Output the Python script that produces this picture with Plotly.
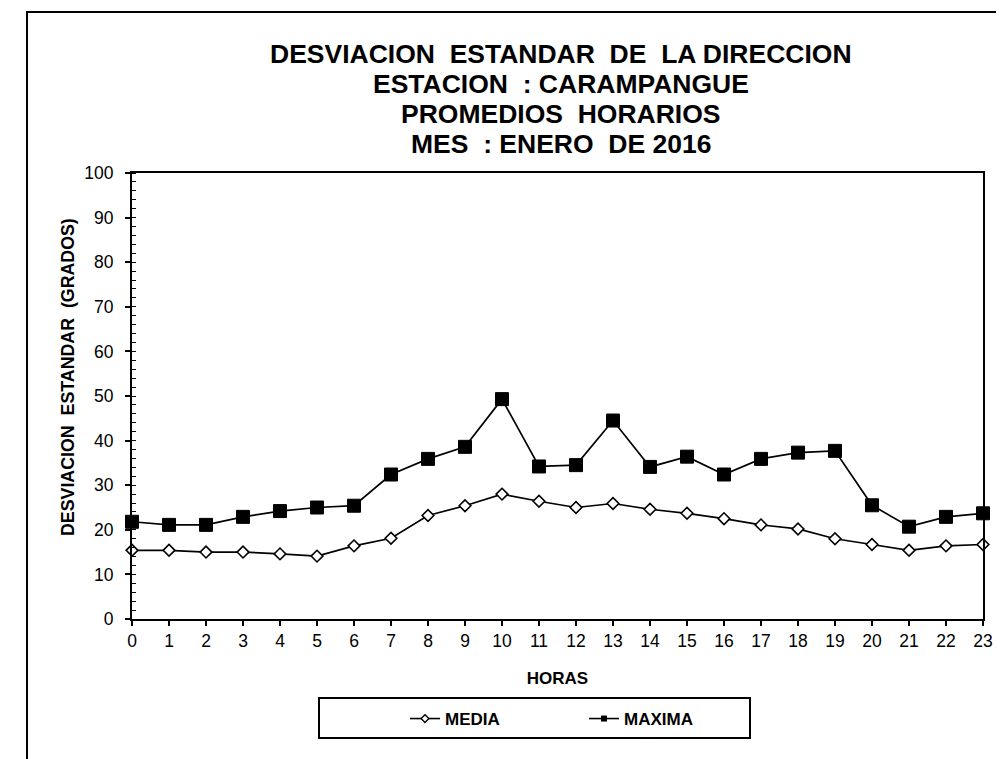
import plotly.graph_objects as go

horas = list(range(24))
media = [15.4, 15.4, 15.0, 15.0, 14.6, 14.1, 16.4, 18.1, 23.2, 25.4, 28.0, 26.4,
         25.0, 25.9, 24.6, 23.7, 22.5, 21.1, 20.2, 18.0, 16.7, 15.4, 16.4, 16.7]
maxima = [21.8, 21.1, 21.1, 22.9, 24.2, 25.0, 25.4, 32.4, 35.9, 38.6, 49.3, 34.2,
          34.5, 44.5, 34.1, 36.4, 32.4, 35.9, 37.3, 37.7, 25.5, 20.7, 22.9, 23.7]

title_lines = [
    "DESVIACION\u00a0 ESTANDAR\u00a0 DE\u00a0 LA DIRECCION",
    "ESTACION\u00a0 : CARAMPANGUE",
    "PROMEDIOS\u00a0 HORARIOS",
    "MES\u00a0 : ENERO\u00a0 DE 2016",
]
y_title = "DESVIACION\u00a0 ESTANDAR\u00a0 (GRADOS)"
x_title = "HORAS"

FONT = "Liberation Sans, Arial, sans-serif"
OFF = 8                      # page body margin
PAGE_W, PAGE_H = 1004, 759
W, H = PAGE_W - OFF, PAGE_H - OFF
L, R, T, B = 132, 983, 173, 619  # plot area bounds in page pixels


def px(x):
    return (x - L) / (R - L)


def py(y):
    return (B - y) / (B - T)


fig = go.Figure()

fig.add_trace(go.Scatter(
    x=horas, y=media, mode="lines+markers", name="MEDIA", showlegend=False,
    line=dict(color="black", width=1.7),
    marker=dict(symbol="diamond", size=9, color="white",
                line=dict(color="black", width=1.6)),
    cliponaxis=False,
))
fig.add_trace(go.Scatter(
    x=horas, y=maxima, mode="lines+markers", name="MAXIMA", showlegend=False,
    line=dict(color="black", width=1.7),
    marker=dict(symbol="square", size=13, color="black",
                line=dict(color="black", width=1)),
    cliponaxis=False,
))
# legend entries (small symbols as in the reference)
fig.add_trace(go.Scatter(
    x=[None], y=[None], mode="lines+markers", name="MEDIA",
    line=dict(color="black", width=1.6),
    marker=dict(symbol="diamond", size=6, color="white",
                line=dict(color="black", width=1.4)),
))
fig.add_trace(go.Scatter(
    x=[None], y=[None], mode="lines+markers", name="MAXIMA",
    line=dict(color="black", width=1.6),
    marker=dict(symbol="square", size=6, color="black"),
))

annotations = []
for txt, yc in zip(title_lines, [54.3, 84.3, 114.3, 144.3]):
    annotations.append(dict(
        text=txt, xref="paper", yref="paper", x=px(560.5), y=py(yc),
        xanchor="center", yanchor="middle", showarrow=False,
        font=dict(family=FONT, size=26.5, color="black", weight="bold"),
    ))
annotations.append(dict(
    text=y_title, xref="paper", yref="paper", x=px(68), y=py(377),
    xanchor="center", yanchor="middle", showarrow=False, textangle=-90,
    font=dict(family=FONT, size=17.8, color="black", weight="bold"),
))

shapes = [
    # outer chart frame (continues past right/bottom edges)
    dict(type="rect", xref="paper", yref="paper",
         x0=px(27), x1=px(1015), y0=py(775), y1=py(12),
         line=dict(color="black", width=2), fillcolor="rgba(0,0,0,0)", layer="below"),
    # legend frame
    dict(type="rect", xref="paper", yref="paper",
         x0=px(319), x1=px(750), y0=py(738), y1=py(698),
         line=dict(color="black", width=2), fillcolor="rgba(0,0,0,0)"),
]

axis_common = dict(showgrid=False, zeroline=False, color="black")

fig.update_layout(
    width=W, height=H,
    margin=dict(l=L - OFF, r=PAGE_W - R, t=T - OFF, b=PAGE_H - B, pad=0),
    paper_bgcolor="white", plot_bgcolor="white",
    font=dict(family=FONT, color="black", size=17),
    showlegend=True,
    legend=dict(orientation="h", x=px(405), y=py(719), xanchor="left", yanchor="middle",
                bgcolor="rgba(0,0,0,0)", borderwidth=0,
                font=dict(family=FONT, size=17, color="black", weight="bold"),
                entrywidth=134, entrywidthmode="pixels", itemclick=False),
    xaxis=dict(
        range=[0, 23], tickmode="linear", tick0=0, dtick=1,
        ticks="outside", ticklen=5, tickwidth=1.5, tickcolor="black",
        showline=True, linewidth=2, linecolor="black", mirror=True,
        tickfont=dict(family=FONT, size=17.5, color="black"),
        title=dict(text=x_title, standoff=22,
                   font=dict(family=FONT, size=17, color="black", weight="bold")),
        **axis_common,
    ),
    xaxis2=dict(
        range=[0, 23], overlaying="x", side="bottom", anchor="y",
        tickmode="linear", tick0=0, dtick=1, ticks="inside", ticklen=5,
        tickwidth=1.5, tickcolor="black", showticklabels=False, showline=False,
        **axis_common,
    ),
    yaxis=dict(
        range=[0, 100], tickmode="linear", tick0=0, dtick=10,
        ticks="outside", ticklen=5, tickwidth=1.5, tickcolor="black",
        showline=True, linewidth=2, linecolor="black", mirror=True,
        tickfont=dict(family=FONT, size=17.5, color="black"),
        ticklabelstandoff=8,
        minor=dict(ticks="inside", ticklen=4, dtick=2, tick0=0, tickwidth=1.2,
                   tickcolor="black", showgrid=False),
        **axis_common,
    ),
    yaxis2=dict(
        range=[0, 100], overlaying="y", side="left", anchor="x",
        tickmode="linear", tick0=0, dtick=10, ticks="inside", ticklen=5,
        tickwidth=1.5, tickcolor="black", showticklabels=False, showline=False,
        **axis_common,
    ),
    annotations=annotations,
    shapes=shapes,
)

fig.write_html("out.html")
